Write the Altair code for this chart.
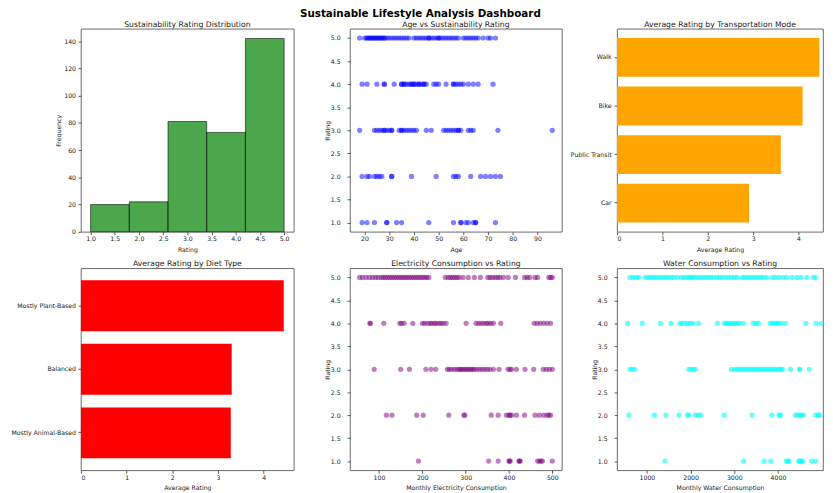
import altair as alt
import pandas as pd

FONT = "DejaVu Sans"
LBL = 6.3
TTL = 7.8

# ---------------- data ----------------
# Histogram of sustainability ratings
hist_bin_start = [1.0, 1.8, 2.6, 3.4, 4.2]
hist_bin_end = [1.8, 2.6, 3.4, 4.2, 5.0]
hist_counts = [20, 22, 81, 73, 142]

# Average rating by transportation mode (top to bottom)
transport_modes = ["Walk", "Bike", "Public Transit", "Car"]
transport_avg = [4.46, 4.09, 3.61, 2.91]

# Average rating by diet type (top to bottom)
diet_types = ["Mostly Plant-Based", "Balanced", "Mostly Animal-Based"]
diet_avg = [4.44, 3.30, 3.28]

# Age vs rating (ages per rating level)
age_r5 = [18, 20, 21, 21, 22, 22, 23, 23, 24, 24, 25, 25, 26, 26, 27, 27, 28, 28, 29, 30,
          31, 32, 33, 34, 35, 36, 37, 38, 40, 41, 42, 43, 44, 45, 46, 46, 47, 48, 49, 50,
          50, 51, 52, 53, 54, 55, 56, 57, 58, 60, 61, 62, 63, 64, 65, 66, 68, 70, 71, 73]
age_r4 = [19, 21, 25, 28, 28, 32, 35, 35, 36, 36, 37, 38, 39, 39, 40, 40, 41, 42, 42, 43,
          44, 44, 45, 48, 49, 50, 53, 56, 56, 57, 58, 59, 60, 62, 64, 66, 72]
age_r3 = [18, 24, 25, 26, 27, 28, 28, 29, 30, 31, 31, 34, 35, 35, 36, 37, 38, 39, 40, 41,
          45, 47, 52, 53, 54, 55, 56, 57, 58, 58, 59, 62, 63, 64, 74, 96]
age_r2 = [19, 21, 22, 24, 25, 26, 27, 31, 31, 39, 49, 56, 57, 58, 63, 67, 69, 71, 73, 75]
age_r1 = [19, 21, 24, 29, 29, 33, 35, 46, 56, 59, 59, 61, 62, 64, 65, 65, 73]

# Monthly electricity consumption vs rating
elec_r5 = [55, 62, 70, 78, 85, 92, 98, 105, 110, 115, 120, 125, 130, 135, 140, 145, 150, 155,
           160, 165, 170, 175, 180, 185, 190, 195, 200, 205, 210, 215, 253, 260, 265, 270,
           275, 280, 285, 294, 306, 320, 334, 351, 356, 362, 368, 374, 379, 387, 398, 415,
           436, 442, 448, 460, 466, 492, 496, 500]
elec_r4 = [79, 80, 111, 148, 152, 158, 178, 200, 205, 212, 218, 222, 228, 232, 238, 243, 248,
           255, 301, 324, 330, 336, 342, 348, 352, 358, 364, 381, 458, 465, 472, 480, 488, 496]
elec_r3 = [89, 150, 170, 208, 220, 231, 258, 262, 268, 274, 280, 285, 288, 292, 296, 300, 304,
           308, 312, 316, 320, 326, 332, 338, 344, 350, 356, 364, 377, 398, 402, 406, 417,
           437, 457, 479, 486, 493, 500]
elec_r2 = [117, 130, 187, 202, 261, 296, 298, 359, 375, 394, 400, 402, 406, 417, 436, 460,
           470, 480, 488, 492, 496]
elec_r1 = [191, 353, 375, 400, 401, 403, 423, 424, 426, 466, 470, 474, 477, 500]

# Monthly water consumption vs rating
water_r5 = [610, 680, 760, 812, 962, 1020, 1080, 1140, 1200, 1260, 1320, 1380, 1440, 1500,
            1560, 1620, 1697, 1787, 1840, 1900, 1960, 2000, 2040, 2100, 2160, 2220, 2280,
            2340, 2400, 2460, 2520, 2597, 2657, 2720, 2790, 2860, 2930, 3000, 3062, 3182,
            3240, 3300, 3360, 3420, 3480, 3540, 3600, 3660, 3737, 3872, 3950, 4030, 4120,
            4200, 4322, 4435, 4533, 4660, 4810, 4863]
water_r4 = [557, 895, 1307, 1547, 1757, 1800, 1860, 1920, 1990, 2057, 2185, 2612, 2770, 2820,
            2870, 2920, 2970, 3020, 3070, 3120, 3212, 3437, 3500, 3557, 3820, 3870, 3920,
            3970, 4020, 4080, 4173, 4640, 4870, 4990]
water_r3 = [610, 660, 722, 1960, 2010, 2060, 2110, 2935, 3000, 3060, 3110, 3160, 3210, 3260,
            3310, 3360, 3410, 3460, 3510, 3560, 3610, 3660, 3710, 3760, 3810, 3860, 3910,
            3960, 4010, 4060, 4100, 4285, 4490, 4500, 4715]
water_r2 = [587, 1172, 1435, 1735, 1937, 1950, 2110, 2170, 2237, 2770, 3407, 3857, 4022, 4060,
            4400, 4450, 4500, 4540, 4585, 4865, 4920, 4960]
water_r1 = [1412, 3212, 3685, 3835, 4188, 4220, 4250, 4472, 4500, 4530, 4563, 4773, 4863]

# tick labels
rating_ticks = [1.0, 1.5, 2.0, 2.5, 3.0, 3.5, 4.0, 4.5, 5.0]
hist_x_ticks = [1.0, 1.5, 2.0, 2.5, 3.0, 3.5, 4.0, 4.5, 5.0]
hist_y_ticks = [0, 20, 40, 60, 80, 100, 120, 140]
age_ticks = [20, 30, 40, 50, 60, 70, 80, 90]
avg_ticks = [0, 1, 2, 3, 4]
elec_ticks = [100, 200, 300, 400, 500]
water_ticks = [1000, 2000, 3000, 4000]


def scatter_df(name, groups):
    rows = []
    for rating, vals in groups:
        for v in vals:
            rows.append({name: v, "rating": rating})
    return pd.DataFrame(rows)


age_df = scatter_df("age", [(5, age_r5), (4, age_r4), (3, age_r3), (2, age_r2), (1, age_r1)])
elec_df = scatter_df("elec", [(5, elec_r5), (4, elec_r4), (3, elec_r3), (2, elec_r2), (1, elec_r1)])
water_df = scatter_df("water", [(5, water_r5), (4, water_r4), (3, water_r3), (2, water_r2), (1, water_r1)])
hist_df = pd.DataFrame({"start": hist_bin_start, "end": hist_bin_end, "count": hist_counts})
trans_df = pd.DataFrame({"mode": transport_modes, "avg": transport_avg})
diet_df = pd.DataFrame({"diet": diet_types, "avg": diet_avg})


def ptitle(text):
    return alt.TitleParams(text=text, font=FONT, fontSize=TTL, fontWeight="normal",
                           color="#1a1a1a", offset=-8, anchor="middle", baseline="bottom")


def xaxis(title, values, fmt):
    return alt.Axis(title=title, values=values, format=fmt, labelPadding=1, titlePadding=4.5)


def yaxis(title, values=None, fmt=None, **kw):
    args = dict(title=title, labelPadding=2.5)
    if values is not None:
        args["values"] = values
    if fmt is not None:
        args["format"] = fmt
    args.update(kw)
    return alt.Axis(**args)


W1, W2, W3 = 216, 215, 209
H1, H2 = 206, 205
DOT = 28

hist = alt.Chart(hist_df).mark_bar(
    color="green", fillOpacity=0.7, stroke="black", strokeOpacity=0.7, strokeWidth=0.8
).encode(
    x=alt.X("start:Q", scale=alt.Scale(domain=[0.8, 5.2], nice=False, zero=False),
            axis=xaxis("Rating", hist_x_ticks, ".1f")),
    x2="end:Q",
    y=alt.Y("count:Q", scale=alt.Scale(domain=[0, 149.1], nice=False),
            axis=yaxis("Frequency", hist_y_ticks, "d", titleX=-20)),
    y2=alt.datum(0),
).properties(width=W1, height=H1, title=ptitle("Sustainability Rating Distribution"))

age = alt.Chart(age_df).mark_circle(size=DOT, opacity=0.5, color="blue").encode(
    x=alt.X("age:Q", scale=alt.Scale(domain=[14.1, 99.9], nice=False, zero=False),
            axis=xaxis("Age", age_ticks, "d")),
    y=alt.Y("rating:Q", scale=alt.Scale(domain=[0.8, 5.2], nice=False, zero=False),
            axis=yaxis("Rating", rating_ticks, ".1f", minExtent=55, titleX=-20, labelPadding=7)),
).properties(width=W2, height=H1, title=ptitle("Age vs Sustainability Rating"))

trans = alt.Chart(trans_df).mark_bar(color="#ffa500").encode(
    x=alt.X("avg:Q", scale=alt.Scale(domain=[0, 4.54], nice=False),
            axis=xaxis("Average Rating", avg_ticks, "d")),
    y=alt.Y("mode:N", sort=transport_modes,
            scale=alt.Scale(paddingInner=0.2, paddingOuter=0.19),
            axis=yaxis(None, minExtent=54, labelPadding=3)),
).properties(width=W3, height=H1, title=ptitle("Average Rating by Transportation Mode"))

diet = alt.Chart(diet_df).mark_bar(color="#ff0000").encode(
    x=alt.X("avg:Q", scale=alt.Scale(domain=[0, 4.66], nice=False),
            axis=xaxis("Average Rating", avg_ticks, "d")),
    y=alt.Y("diet:N", sort=diet_types,
            scale=alt.Scale(paddingInner=0.2, paddingOuter=0.19),
            axis=yaxis(None, minExtent=73)),
).properties(width=W1, height=H2, title=ptitle("Average Rating by Diet Type"))

elec = alt.Chart(elec_df).mark_circle(size=DOT, opacity=0.5, color="purple").encode(
    x=alt.X("elec:Q", scale=alt.Scale(domain=[33, 522], nice=False, zero=False),
            axis=xaxis("Monthly Electricity Consumption", elec_ticks, "d")),
    y=alt.Y("rating:Q", scale=alt.Scale(domain=[0.8, 5.2], nice=False, zero=False),
            axis=yaxis("Rating", rating_ticks, ".1f", minExtent=55, titleX=-20, labelPadding=7)),
).properties(width=W2, height=H2, title=ptitle("Electricity Consumption vs Rating"))

water = alt.Chart(water_df).mark_circle(size=DOT, opacity=0.6, color="cyan").encode(
    x=alt.X("water:Q", scale=alt.Scale(domain=[316, 5031], nice=False, zero=False),
            axis=xaxis("Monthly Water Consumption", water_ticks, "d")),
    y=alt.Y("rating:Q", scale=alt.Scale(domain=[0.8, 5.2], nice=False, zero=False),
            axis=yaxis("Rating", rating_ticks, ".1f", minExtent=54, titleX=-20, labelPadding=7)),
).properties(width=W3, height=H2, title=ptitle("Water Consumption vs Rating"))

chart = alt.concat(
    hist, age, trans, diet, elec, water,
    columns=3,
    spacing={"row": 6, "column": 0},
    align="each",
    bounds="full",
).properties(
    padding={"left": 0, "top": -2.5, "right": 0, "bottom": 0},
    background="white",
    title=alt.TitleParams(text="Sustainable Lifestyle Analysis Dashboard", font=FONT,
                          fontSize=10.5, fontWeight="bold", color="black",
                          anchor="middle", offset=1, dx=4),
).configure_view(
    stroke="#444", strokeWidth=0.8
).configure_axis(
    grid=False, domain=False,
    labelFont=FONT, labelFontSize=LBL, labelColor="#222",
    titleFont=FONT, titleFontSize=LBL, titleColor="#222", titleFontWeight="normal",
    tickSize=3, tickColor="#333", tickWidth=0.8,
)

chart.save("out.html", embed_options={"renderer": "svg", "actions": False})
